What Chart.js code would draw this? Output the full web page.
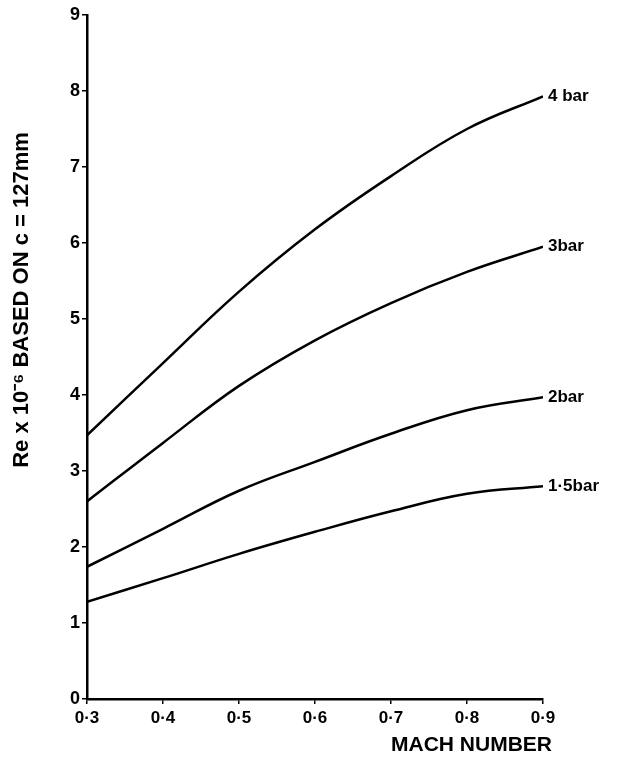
<!DOCTYPE html>
<html>
<head>
<meta charset="utf-8">
<script src="https://cdn.jsdelivr.net/npm/chart.js@4"></script>
<style>
  html, body { margin: 0; padding: 0; background: #fff; }
  #wrap { width: 622px; height: 759px; position: relative; }
</style>
</head>
<body>
<div id="wrap"><canvas id="reChart"></canvas></div>
<script>
// Mach numbers
const machNumbers = [0.3, 0.4, 0.5, 0.6, 0.7, 0.8, 0.9];

// Re x 10^-6 for each tunnel pressure
const re4bar   = [3.47, 4.42, 5.36, 6.18, 6.88, 7.50, 7.93];
const re3bar   = [2.60, 3.37, 4.12, 4.72, 5.21, 5.62, 5.95];
const re2bar   = [1.74, 2.24, 2.74, 3.12, 3.49, 3.80, 3.97];
const re15bar  = [1.28, 1.59, 1.91, 2.20, 2.47, 2.70, 2.80];

const seriesLabels = ['4 bar', '3bar', '2bar', '1·5bar'];
const xTickLabels = { 0.3: '0·3', 0.4: '0·4', 0.5: '0·5', 0.6: '0·6', 0.7: '0·7', 0.8: '0·8', 0.9: '0·9' };

const FONT = '"Liberation Sans", Arial, sans-serif';

function toPoints(values) {
    return machNumbers.map((m, i) => ({ x: m, y: values[i] }));
}

// Draw the pressure labels at the end of each curve and the axis titles
const annotations = {
    id: 'annotations',
    afterDraw(chart) {
        const ctx = chart.ctx;
        ctx.save();
        ctx.fillStyle = '#000';
        ctx.font = 'bold 17px ' + FONT;
        ctx.textBaseline = 'middle';
        ctx.textAlign = 'left';
        chart.data.datasets.forEach((ds, i) => {
            const pts = chart.getDatasetMeta(i).data;
            const last = pts[pts.length - 1];
            ctx.fillText(seriesLabels[i], last.x + 5, last.y);
        });

        // x axis title
        ctx.font = 'bold 21px ' + FONT;
        ctx.textAlign = 'right';
        ctx.fillText('MACH NUMBER', 552, 745);

        // y axis title
        ctx.translate(22, 300);
        ctx.rotate(-Math.PI / 2);
        ctx.textAlign = 'center';
        ctx.font = 'bold 22px ' + FONT;
        ctx.fillText('Re x 10\u207B\u2076 BASED ON c = 127mm', 0, 0);
        ctx.restore();
    }
};

const ctx = document.getElementById('reChart').getContext('2d');
new Chart(ctx, {
    type: 'line',
    data: {
        datasets: [re4bar, re3bar, re2bar, re15bar].map((vals, i) => ({
            label: seriesLabels[i],
            data: toPoints(vals),
            borderColor: '#000',
            borderWidth: 2.5,
            pointRadius: 0,
            fill: false,
            tension: 0.4
        }))
    },
    options: {
        responsive: true,
        maintainAspectRatio: false,
        animation: false,
        layout: { padding: { left: 0, right: 79, top: 15, bottom: 0 } },
        plugins: {
            legend: { display: false },
            tooltip: { enabled: false }
        },
        scales: {
            x: {
                type: 'linear',
                min: 0.3,
                max: 0.9,
                afterFit: (scale) => { scale.height = 60; },
                border: { color: '#000', width: 2.5 },
                grid: { drawOnChartArea: false, color: '#000', tickLength: 5, lineWidth: 1.5 },
                ticks: {
                    stepSize: 0.1,
                    color: '#000',
                    padding: 4,
                    font: { family: FONT, size: 17, weight: 'bold' },
                    callback: (v) => xTickLabels[Math.round(v * 10) / 10] || ''
                }
            },
            y: {
                min: 0,
                max: 9,
                afterFit: (scale) => { scale.width = 87; },
                border: { color: '#000', width: 2.5 },
                grid: { drawOnChartArea: false, color: '#000', tickLength: 5, lineWidth: 1.5 },
                ticks: {
                    stepSize: 1,
                    color: '#000',
                    padding: 2,
                    font: { family: FONT, size: 18, weight: 'bold' }
                }
            }
        }
    },
    plugins: [annotations]
});
</script>
</body>
</html>
